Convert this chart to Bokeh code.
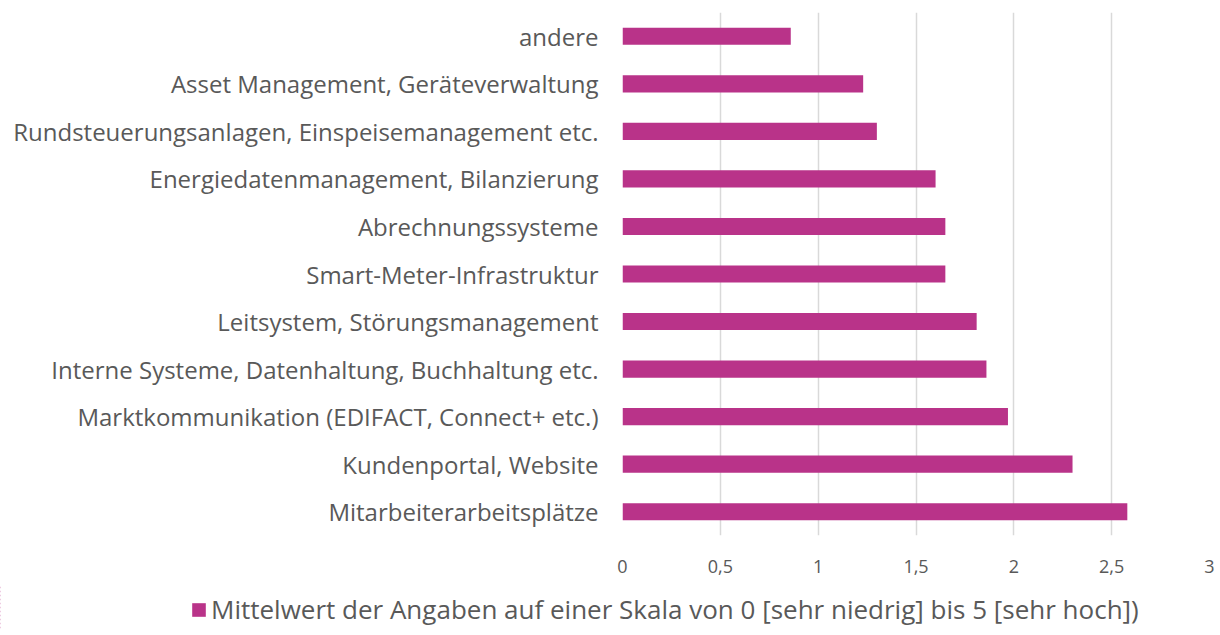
from bokeh.plotting import figure
from bokeh.layouts import column
from bokeh.models import ColumnDataSource, Legend, LegendItem, FixedTicker, CustomJSTickFormatter
from bokeh.embed import file_html
from bokeh.resources import INLINE

categories = [
    "Mitarbeiterarbeitsplätze",
    "Kundenportal, Website",
    "Marktkommunikation (EDIFACT, Connect+ etc.)",
    "Interne Systeme, Datenhaltung, Buchhaltung etc.",
    "Leitsystem, Störungsmanagement",
    "Smart-Meter-Infrastruktur",
    "Abrechnungssysteme",
    "Energiedatenmanagement, Bilanzierung",
    "Rundsteuerungsanlagen, Einspeisemanagement etc.",
    "Asset Management, Geräteverwaltung",
    "andere",
]
values = [2.58, 2.30, 1.97, 1.86, 1.81, 1.65, 1.65, 1.60, 1.30, 1.23, 0.86]
x_ticks = [0, 0.5, 1, 1.5, 2, 2.5, 3]
series_name = "Mittelwert der Angaben auf einer Skala von 0 [sehr niedrig] bis 5 [sehr hoch])"

FONT = "Open Sans"
TXT = "#595959"
BAR = "#B93389"

src = ColumnDataSource(dict(cat=categories, val=values))

p = figure(width=1216, height=585, y_range=categories, x_range=(0, 3),
           output_backend="svg", toolbar_location=None,
           min_border_left=622, min_border_right=7, min_border_top=12, min_border_bottom=50)
p.frame_align = False

r = p.hbar(y="cat", right="val", left=0, height=0.36, source=src,
           fill_color=BAR, line_color=None)

p.outline_line_color = None
p.ygrid.grid_line_color = None
p.xgrid.grid_line_color = "#D9D9D9"
p.xgrid.grid_line_width = 1.5
p.xaxis.ticker = FixedTicker(ticks=x_ticks)
p.xaxis.formatter = CustomJSTickFormatter(code="return tick.toString().replace('.', ',');")
for ax in (p.xaxis, p.yaxis):
    ax.axis_line_color = None
    ax.major_tick_line_color = None
    ax.minor_tick_line_color = None
    ax.major_label_text_color = TXT
    ax.major_label_text_font = FONT
p.xaxis.major_label_text_font_size = "18px"
p.xaxis.major_label_standoff = 18
p.yaxis.major_label_text_font_size = "24px"
p.yaxis.major_label_standoff = 18

# legend strip below the chart: same series drawn far out of view, used only for its key
lg = figure(width=1216, height=44, x_range=(100, 101), y_range=categories,
            x_axis_type=None, y_axis_type=None,
            output_backend="svg", toolbar_location=None,
            min_border_left=0, min_border_right=0, min_border_top=0, min_border_bottom=0)
lg.frame_align = False
lg.outline_line_color = None
lg.grid.visible = False
key = lg.hbar(y="cat", right="val", left=0, height=0.36, source=src,
              fill_color=BAR, line_color=None)
legend = Legend(items=[LegendItem(label=series_name, renderers=[key], index=0)],
                location=(190, 2), orientation="horizontal",
                label_text_font=FONT, label_text_font_size="26px", label_text_color=TXT,
                glyph_width=17, glyph_height=17, padding=0, margin=0, label_standoff=4,
                border_line_color=None, background_fill_alpha=0)
lg.add_layout(legend, "center")

layout = column(p, lg, spacing=0)
open("out.html", "w").write(file_html(layout, INLINE))
